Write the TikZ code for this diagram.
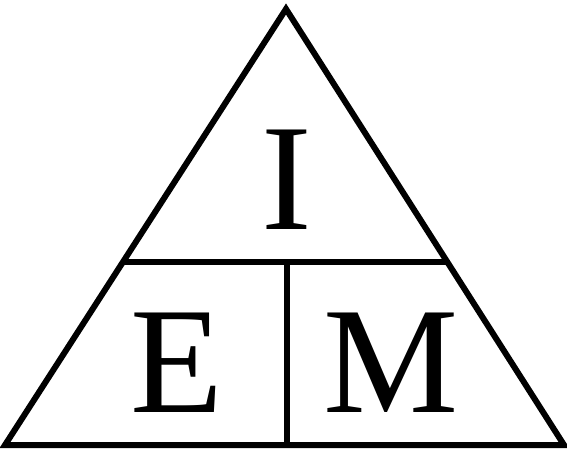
\documentclass[tikz,border=0pt]{standalone}
\usepackage{fontspec}
\setmainfont{Liberation Serif}
\usetikzlibrary{calc}
\tikzset{
  edge/.style={line width=6pt, line join=miter, black},
  letter/.style={anchor=base, inner sep=0pt, font=\fontsize{152}{152}\selectfont}
}
\begin{document}
\begin{tikzpicture}[x=1pt,y=1pt]
\useasboundingbox (0,0) rectangle (567,451);
% image coords: y_tikz = 451 - y_img
\coordinate (apex) at (286,442);
\coordinate (bl) at (5,6);
\coordinate (br) at (564,6);
\coordinate (ml) at ($(apex)!0.580!(bl)$);
\coordinate (mr) at ($(apex)!0.580!(br)$);
\coordinate (mt) at (287,189);
\coordinate (mb) at (287,6);
\draw[edge] (apex) -- (bl) -- (br) -- cycle;
\draw[edge] (ml) -- (mr);
\draw[edge] (mt) -- (mb);
\node[letter] (i) at (287,222) {I};
\node[letter] (e) at (177,39) {E};
\node[letter] (m) at (391,39) {M};
\end{tikzpicture}
\end{document}
